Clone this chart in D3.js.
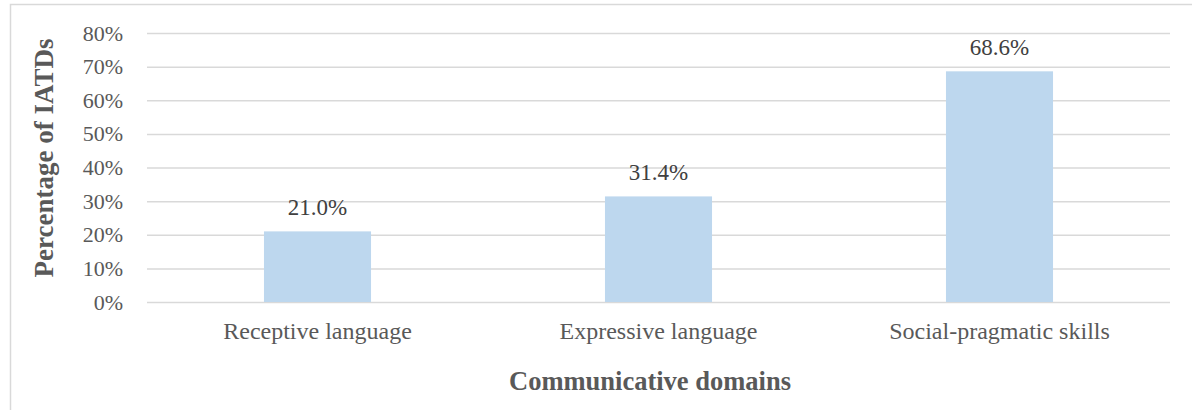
<!DOCTYPE html>
<html>
<head>
<meta charset="utf-8">
<script src="https://cdn.jsdelivr.net/npm/d3@7"></script>
<style>
  html, body { margin: 0; padding: 0; background: #fff; }
  svg { display: block; font-family: "Liberation Serif", "Times New Roman", serif; }
</style>
</head>
<body>
<svg id="chart" width="1192" height="410"></svg>
<script>
// Share of IATDs showing difficulties in each communicative domain
const categories = ["Receptive language", "Expressive language", "Social-pragmatic skills"];
const values = [21.0, 31.4, 68.6];
const tickValues = [0, 10, 20, 30, 40, 50, 60, 70, 80];

const svg = d3.select("#chart");
const W = 1192, H = 410;
const margin = { left: 147, right: 22, top: 33, bottom: 108 };
const plotW = W - margin.left - margin.right;
const plotH = H - margin.top - margin.bottom;

// chart frame
svg.append("rect")
  .attr("x", 10.5).attr("y", 4.5)
  .attr("width", 1200).attr("height", 420)
  .attr("fill", "#fff")
  .attr("stroke", "#d9d9d9").attr("stroke-width", 1.5);

const g = svg.append("g").attr("transform", `translate(${margin.left},${margin.top})`);

const x = d3.scaleBand().domain(categories).range([0, plotW])
  .paddingInner(0.686).paddingOuter(0.343);
const y = d3.scaleLinear().domain([0, 80]).range([plotH, 0]);

// horizontal gridlines + tick labels
const yAxis = d3.axisLeft(y).tickValues(tickValues)
  .tickSize(-plotW).tickPadding(24).tickFormat(d => d + "%");
const ya = g.append("g").call(yAxis);
ya.select(".domain").remove();
ya.selectAll(".tick line").attr("stroke", "#d9d9d9").attr("stroke-width", 1.5);
ya.selectAll(".tick text")
  .attr("fill", "#595959").attr("font-size", 22)
  .attr("font-family", "'Liberation Serif', 'Times New Roman', serif");

// bars
g.selectAll("rect.bar").data(values).join("rect")
  .attr("class", "bar")
  .attr("x", (d, i) => x(categories[i]))
  .attr("y", d => y(d))
  .attr("width", x.bandwidth())
  .attr("height", d => plotH - y(d))
  .attr("fill", "#bdd7ee");

// value labels
g.selectAll("text.val").data(values).join("text")
  .attr("class", "val")
  .attr("x", (d, i) => x(categories[i]) + x.bandwidth() / 2)
  .attr("y", d => y(d) - 16)
  .attr("text-anchor", "middle")
  .attr("fill", "#404040").attr("font-size", 23)
  .text(d => d.toFixed(1) + "%");

// category labels
const xAxis = d3.axisBottom(x).tickSize(0).tickPadding(0);
const xa = g.append("g").attr("transform", `translate(0,${plotH})`).call(xAxis);
xa.select(".domain").remove();
xa.selectAll(".tick text")
  .attr("dy", null).attr("y", 37)
  .attr("fill", "#595959").attr("font-size", 24)
  .attr("font-family", "'Liberation Serif', 'Times New Roman', serif");

// axis titles
svg.append("text")
  .attr("x", 650).attr("y", 390)
  .attr("text-anchor", "middle")
  .attr("fill", "#595959").attr("font-size", 26.5).attr("font-weight", "bold")
  .text("Communicative domains");

svg.append("text")
  .attr("transform", "translate(53,158) rotate(-90)")
  .attr("text-anchor", "middle")
  .attr("fill", "#595959").attr("font-size", 27).attr("font-weight", "bold")
  .text("Percentage of IATDs");
</script>
</body>
</html>
